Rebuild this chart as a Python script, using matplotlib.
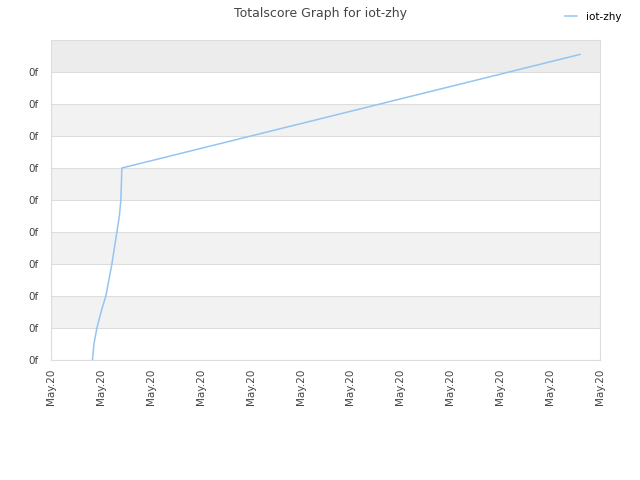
import matplotlib
matplotlib.use("Agg")
import matplotlib.pyplot as plt

# score curve (x in tick steps, y in grid steps)
dates = [0.83, 0.86, 0.92, 1.02, 1.10, 1.22, 1.32, 1.37, 1.40, 1.42, 10.6]
scores = [0.0, 0.5, 1.0, 1.6, 2.0, 3.0, 4.0, 4.5, 5.0, 6.0, 9.55]
x_ticks = list(range(12))
x_labels = ["May.20"] * 12
y_ticks = list(range(10))
y_labels = ["0f"] * 10
series = "iot-zhy"

fig = plt.figure(figsize=(6.4, 4.8), dpi=100)
ax = fig.add_axes([51 / 640, 120 / 480, 549 / 640, 320 / 480])

# alternating background bands
for i in range(10):
    if i % 2 == 1:
        ax.axhspan(i, i + 1, color="#f2f2f2", zorder=0, lw=0)
ax.axhspan(9, 10, color="#ececec", zorder=0, lw=0)
for y in y_ticks:
    ax.axhline(y, color="#dddddd", lw=0.8, zorder=1)

ax.plot(dates, scores, color="#95c4f2", lw=1.1, zorder=3, label=series)

ax.set_xlim(0, 11)
ax.set_ylim(0, 10)
ax.set_xticks(x_ticks)
ax.set_xticklabels(x_labels, rotation=90)
ax.set_yticks(y_ticks)
ax.set_yticklabels(y_labels)
ax.tick_params(axis="x", length=0, labelsize=7.5, colors="#444444", pad=6)
ax.tick_params(axis="y", length=0, labelsize=7.5, colors="#444444", pad=9)
for s in ax.spines.values():
    s.set_color("#dddddd")

fig.suptitle("Totalscore Graph for iot-zhy", x=0.5, y=0.985, fontsize=9,
             color="#444444")
fig.legend(loc="upper right", bbox_to_anchor=(0.985, 0.995), frameon=False,
           fontsize=7.5, handlelength=1.2)

fig.savefig("out.png", dpi=100)
